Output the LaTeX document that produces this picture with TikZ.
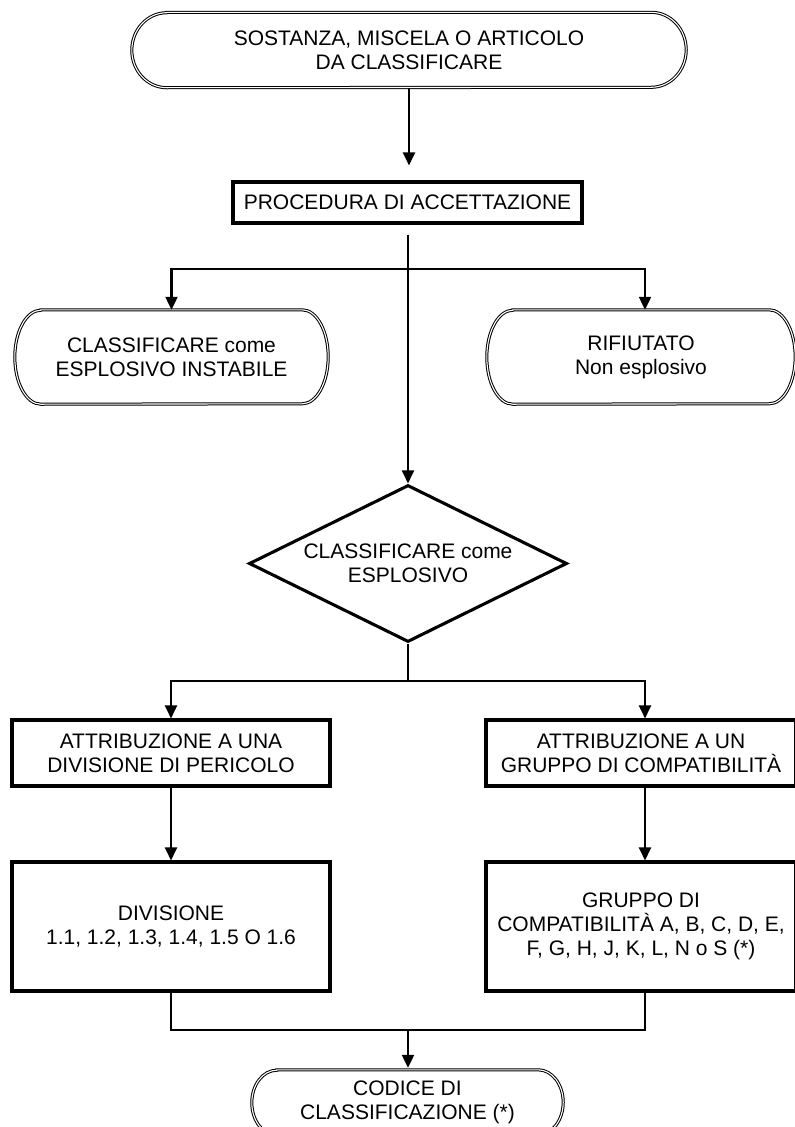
\documentclass[tikz,border=0pt]{standalone}
\usepackage{fontspec}
\setmainfont{Liberation Sans}
\usetikzlibrary{arrows.meta,shapes.geometric}
\newcommand\termshape[3]{% node name, x radius, y radius
  \draw[termline] ([xshift=#2]#1.north west) -- ([xshift=-#2]#1.north east)
    arc[start angle=90,end angle=-90,x radius=#2,y radius=#3]
    -- ([xshift=#2]#1.south west)
    arc[start angle=270,end angle=90,x radius=#2,y radius=#3] -- cycle;}
\begin{document}
\begin{tikzpicture}[x=1pt,y=1pt,
  txt/.style={font=\fontsize{21}{24}\selectfont, align=center, inner sep=0pt},
  boxnode/.style={txt, draw, rectangle, line width=3.1pt},
  termnode/.style={txt, rectangle},
  decnode/.style={txt, draw, diamond, shape aspect=2, line width=3.1pt},
  conn/.style={line width=2.2pt},
  arr/.style={conn, -{Triangle[length=13pt,width=12pt]}},
  termline/.style={line width=1pt, double, double distance=1.1pt},
]
\useasboundingbox (0,0) rectangle (795,-1127);
\fill[white] (0,0) rectangle (795,-1127);

% nodes
\node[termnode, minimum width=554pt, minimum height=75pt] (start) at (409,-50)
  {SOSTANZA, MISCELA O ARTICOLO\\DA CLASSIFICARE};
\termshape{start}{35pt}{37.5pt}

\node[boxnode, minimum width=349pt, minimum height=41pt] (proc) at (407.5,-202.5)
  {PROCEDURA DI ACCETTAZIONE};

\node[termnode, minimum width=313pt, minimum height=94pt] (unst) at (171.5,-357)
  {CLASSIFICARE come\\ESPLOSIVO INSTABILE};
\termshape{unst}{26pt}{47pt}

\node[termnode, minimum width=308pt, minimum height=94pt] (rej) at (641,-357)
  {RIFIUTATO\\Non esplosivo};
\termshape{rej}{26pt}{47pt}

\node[decnode, minimum width=318pt, minimum height=157pt] (expl) at (408,-563.5)
  {CLASSIFICARE come\\ESPLOSIVO};

\node[boxnode, minimum width=318pt, minimum height=66pt] (div) at (171,-753)
  {ATTRIBUZIONE A UNA\\DIVISIONE DI PERICOLO};
\node[boxnode, minimum width=310pt, minimum height=66pt] (grp) at (641,-753)
  {ATTRIBUZIONE A UN\\GRUPPO DI COMPATIBILITÀ};

\node[boxnode, minimum width=318pt, minimum height=129pt] (divn) at (171,-926.5)
  {DIVISIONE\\1.1, 1.2, 1.3, 1.4, 1.5 O 1.6};
\node[boxnode, minimum width=310pt, minimum height=129pt] (grpn) at (641,-926.5)
  {GRUPPO DI\\COMPATIBILITÀ A, B, C, D, E,\\F, G, H, J, K, L, N o S (*)};

\node[termnode, minimum width=311pt, minimum height=65pt] (code) at (407.5,-1102.5)
  {CODICE DI\\CLASSIFICAZIONE (*)};
\termshape{code}{25pt}{32.5pt}

% junctions
\coordinate (j1) at (408,-269);
\coordinate (j2) at (408,-681);
\coordinate (j3) at (408,-1030);

% connectors
\draw[arr, shorten >=15pt] (start.south) -- (start.south |- proc.north);
\draw[arr, shorten <=10pt] (expl.north |- proc.south) -- (expl.north);
\draw[arr] (j1) -| (unst.north);
\draw[arr] (j1) -| ([xshift=4pt]rej.north);
\draw[conn] (expl.south) -- (j2);
\draw[arr] (j2) -| (div.north);
\draw[arr] (j2) -| ([xshift=4pt]grp.north);
\draw[arr] (div.south) -- (divn.north);
\draw[arr] ([xshift=4pt]grp.south) -- ([xshift=4pt]grpn.north);
\draw[conn] (divn.south) |- (j3) -| ([xshift=4pt]grpn.south);
\draw[arr, shorten >=2pt] (j3) -- (j3 |- code.north);
\end{tikzpicture}
\end{document}
